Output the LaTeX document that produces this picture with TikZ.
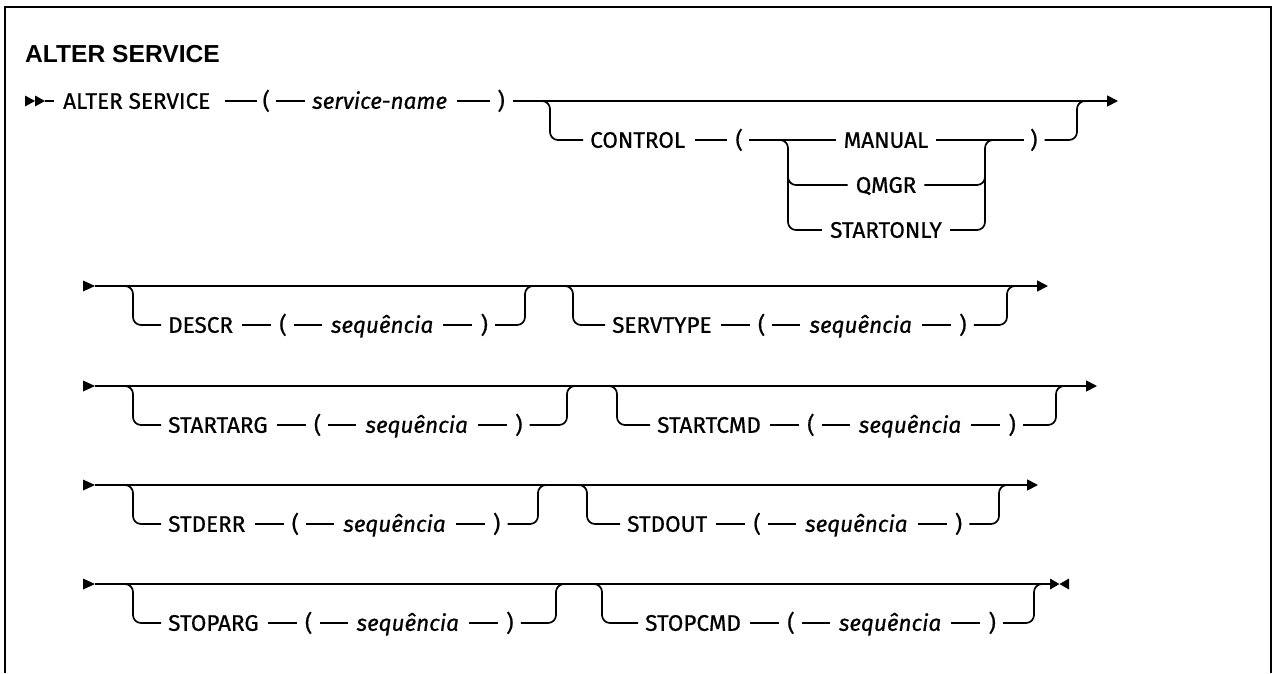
\documentclass[tikz,border=0pt]{standalone}
\usepackage{fontspec}
\setmainfont{Fira Sans}
\newfontfamily\rowfont{Fira Sans}[FakeBold=0.7]
\newfontfamily\titlefont{Liberation Sans}
\usetikzlibrary{arrows.meta}
\tikzset{
  lbl/.style={inner sep=0pt, text height=15.5pt, text depth=0pt, anchor=west, font=\rowfont\fontsize{22.5}{26}\selectfont},
  var/.style={lbl, font=\rowfont\fontsize{22.5}{26}\selectfont\itshape},
  conn/.style={line width=1.7pt, black},
  rc/.style={conn, rounded corners=8pt},
  endarrow/.style={conn, -{Triangle[length=11pt,width=11pt]}},
  frameline/.style={line width=2.5pt, black},
}
% filled triangle: #1 base point, #2 signed length, #3 half height
\newcommand\sdtri[3]{\fill (#1) ++(0,#3) -- ++({#2},{-(#3)}) -- ++({-(#2)},{-(#3)}) -- cycle;}
% optional group: #1 prefix, #2 row y, #3 left x, #4 keyword x, #5 keyword, #6 right x
\newcommand\optgrp[6]{%
  \coordinate (#1TL) at (#3,#2);
  \coordinate (#1BL) at (#3,{#2+39});
  \coordinate (#1TR) at (#6,#2);
  \coordinate (#1BR) at (#6,{#2+39});
  \node[lbl] (#1k) at (#4,{#2+39}) {#5};
  \node[lbl] (#1l) at ([xshift=46pt]#1k.east) {(};
  \node[var] (#1s) at ([xshift=44pt]#1l.east) {sequência};
  \node[lbl] (#1r) at ([xshift=47pt]#1s.east) {)};
  \draw[rc] ([xshift=-15pt]#1TL) -- (#1TL) -- (#1BL) -- ([xshift=-7pt]#1k.west);
  \draw[conn] ([xshift=9pt]#1k.east) -- ([xshift=-8pt]#1l.west);
  \draw[conn] ([xshift=7pt]#1l.east) -- ([xshift=-9pt]#1s.west);
  \draw[conn] ([xshift=10pt]#1s.east) -- ([xshift=-8pt]#1r.west);
  \draw[rc] ([xshift=7pt]#1r.east) -- (#1BR) -- (#1TR) -- ([xshift=15pt]#1TR);
}
\begin{document}
\begin{tikzpicture}[x=1pt, y=-1pt]
\useasboundingbox (0,0) rectangle (1273,673);
\draw[frameline] (5,673) -- (5,7) -- (1271,7) -- (1271,673);

% title
\node[anchor=base west, inner sep=0pt, font=\titlefont\fontsize{24.6}{30}\selectfont\bfseries] (title) at (25,62) {ALTER SERVICE};

% ---------- row 1 ----------
\coordinate (st1) at (25,101);
\coordinate (st1b) at (35,101);
\sdtri{st1}{10}{5.5}
\sdtri{st1b}{10}{5.5}
\node[lbl] (alter) at (63,101) {ALTER SERVICE};
\node[lbl] (lp1) at ([xshift=52pt]alter.east) {(};
\node[var] (svc) at ([xshift=42pt]lp1.east) {service-name};
\node[lbl] (rp1) at ([xshift=50pt]svc.east) {)};
\coordinate (e1) at (1118,101);
\draw[conn] ([xshift=20pt]st1) -- ([xshift=-9pt]alter.west);
\draw[conn] ([xshift=15pt]alter.east) -- ([xshift=-5pt]lp1.west);
\draw[conn] ([xshift=6pt]lp1.east) -- ([xshift=-7pt]svc.west);
\draw[conn] ([xshift=10pt]svc.east) -- ([xshift=-7pt]rp1.west);
\draw[endarrow] ([xshift=8pt]rp1.east) -- (e1);

% CONTROL branch
\coordinate (b1L) at (550,101);
\coordinate (b1Lb) at (550,140);
\coordinate (b1R) at (1077,101);
\coordinate (b1Rb) at (1077,140);
\node[lbl] (ctl) at (590,140) {CONTROL};
\node[lbl] (lp2) at ([xshift=50pt]ctl.east) {(};
\node[lbl, anchor=center] (man) at (886,140) {MANUAL};
\node[lbl, anchor=center] (qm) at (886,185) {QMGR};
\node[lbl, anchor=center] (so) at (886,230) {STARTONLY};
\node[lbl] (rp2) at (1030,140) {)};
\draw[rc] ([xshift=-15pt]b1L) -- (b1L) -- (b1Lb) -- ([xshift=-7pt]ctl.west);
\draw[conn] ([xshift=10pt]ctl.east) -- ([xshift=-8pt]lp2.west);
\draw[conn] ([xshift=6pt]lp2.east) -- ([xshift=-8pt]man.west);
\draw[conn] ([xshift=8pt]man.east) -- ([xshift=-6pt]rp2.west);
\draw[rc] ([xshift=7pt]rp2.east) -- (b1Rb) -- (b1R) -- ([xshift=15pt]b1R);

\coordinate (i1L) at (788,140);
\coordinate (i1Lq) at (788,185);
\coordinate (i1Ls) at (788,230);
\coordinate (i1R) at (985,140);
\coordinate (i1Rq) at (985,185);
\coordinate (i1Rs) at (985,230);
\draw[rc] ([xshift=-15pt]i1L) -- (i1L) -- (i1Lq) -- ([xshift=-8pt]qm.west);
\draw[rc] ([yshift=20pt]i1Lq) -- (i1Ls) -- ([xshift=-8pt]so.west);
\draw[rc] ([xshift=8pt]so.east) -- (i1Rs) -- (i1R) -- ([xshift=15pt]i1R);
\draw[rc] ([xshift=8pt]qm.east) -- (i1Rq) -- ([yshift=20pt]i1Rq);

% ---------- row 2 ----------
\coordinate (r2s) at (83,286);
\coordinate (r2e) at (1048,286);
\sdtri{r2s}{12}{5.5}
\draw[endarrow] ([xshift=12pt]r2s) -- (r2e);
\optgrp{a}{286}{133}{168}{DESCR}{525}
\optgrp{b}{286}{573}{612}{SERVTYPE}{1007}

% ---------- row 3 ----------
\coordinate (r3s) at (83,386);
\coordinate (r3e) at (1097,386);
\sdtri{r3s}{12}{5.5}
\draw[endarrow] ([xshift=12pt]r3s) -- (r3e);
\optgrp{c}{386}{133}{168}{STARTARG}{567}
\optgrp{d}{386}{617}{657}{STARTCMD}{1056}

% ---------- row 4 ----------
\coordinate (r4s) at (83,485);
\coordinate (r4e) at (1038,485);
\sdtri{r4s}{12}{5.5}
\draw[endarrow] ([xshift=12pt]r4s) -- (r4e);
\optgrp{e}{485}{133}{168}{STDERR}{538}
\optgrp{f}{485}{587}{627}{STDOUT}{999}

% ---------- row 5 ----------
\coordinate (r5s) at (83,584);
\coordinate (r5e) at (1050,584);
\coordinate (r5f) at (1069,584);
\sdtri{r5s}{12}{5.5}
\draw[conn] ([xshift=12pt]r5s) -- (r5e);
\sdtri{r5e}{9.5}{5.5}
\sdtri{r5f}{-9.5}{5.5}
\optgrp{g}{584}{133}{168}{STOPARG}{556}
\optgrp{h}{584}{602}{645}{STOPCMD}{1034}
\end{tikzpicture}
\end{document}
